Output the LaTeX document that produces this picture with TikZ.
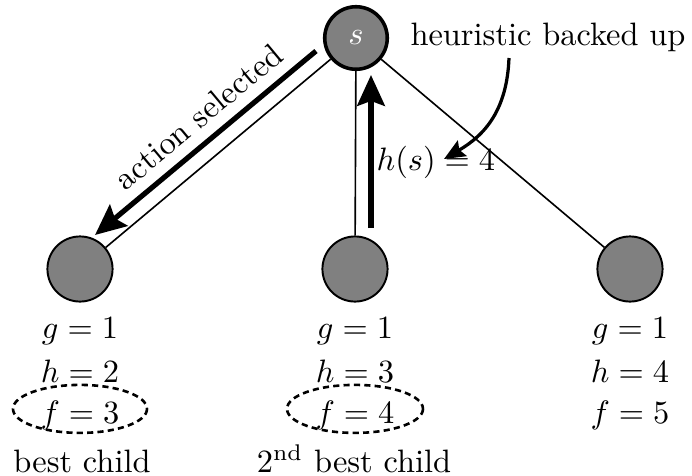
\documentclass[tikz,border=0pt]{standalone}
\usepackage{amsmath}
\usepackage{tikz}
\usetikzlibrary{arrows.meta,positioning,calc,shapes.geometric}
\definecolor{stategray}{RGB}{128,128,128}

\begin{document}
\begin{tikzpicture}[x=0.3085pt, y=-0.3085pt, every node/.style={font=\normalsize},
    state/.style={circle, draw, fill=stategray, minimum size=20.1pt, inner sep=0pt, line width=0.6pt},
    lbl/.style={anchor=base, inner sep=0pt},
    edge/.style={line width=0.5pt},
    bigarrow/.style={line width=1.6pt, -{Stealth[length=9.5pt, width=8.5pt, inset=1.5pt]}},
    bestring/.style={dashed, line width=0.8pt, dash pattern=on 1.9pt off 1.3pt}]
        \useasboundingbox (0,0) rectangle (692,476);
        % the tree
        \node[state, line width=1.1pt, minimum size=19.3pt, text=white] (root) at (356,38) {$s$};
        \node[state] (c1) at (80,269) {};
        \node[state] (c2) at (355,269) {};
        \node[state] (c3) at (630,269) {};
        \draw[edge] (root) -- (c1);
        \draw[edge] (root) -- (c2);
        \draw[edge] (root) -- (c3);
        % child values
        \node[lbl] (g1) at (80,338) {$g=1$};
        \node[lbl] (h1) at (80,382) {$h=2$};
        \node[lbl] (f1) at (80,423) {$f=3$};
        \node[lbl] (best1) at (82,472) {best child};
        \node[lbl] (g2) at (355,338) {$g=1$};
        \node[lbl] (h2) at (355,382) {$h=3$};
        \node[lbl] (f2) at (355,423) {$f=4$};
        \node[lbl] (best2) at (354,472) {2\textsuperscript{nd} best child};
        \node[lbl] (g3) at (630,338) {$g=1$};
        \node[lbl] (h3) at (630,382) {$h=4$};
        \node[lbl] (f3) at (630,423) {$f=5$};
        \draw[bestring] ($(f1.center)+(0,-6)$) ellipse [x radius=67, y radius=24];
        \draw[bestring] ($(f2.center)+(0,-6)$) ellipse [x radius=68, y radius=24];
        % selection and backup
        \draw[bigarrow] ($(root)+(-40,13)$) -- ($(c1)+(15,-34)$)
            node[pos=0.46, above, sloped] (act) {action selected};
        \draw[bigarrow] ($(c2)+(16,-41)$) -- ($(root)+(15,37)$);
        \node[lbl, anchor=base west] (hs) at (376,170) {$h(s)=4$};
        \node[lbl] (heur) at (548,45) {heuristic backed up};
        \draw[line width=1pt, -{Stealth[length=6.5pt, width=5.5pt, inset=1pt]}]
            ($(heur.base)+(-39,13)$) .. controls ($(heur.base)+(-41,65)$) and ($(hs.base west)+(109,-35)$) .. ($(hs.base west)+(68,-11)$);
      \end{tikzpicture}
\end{document}
